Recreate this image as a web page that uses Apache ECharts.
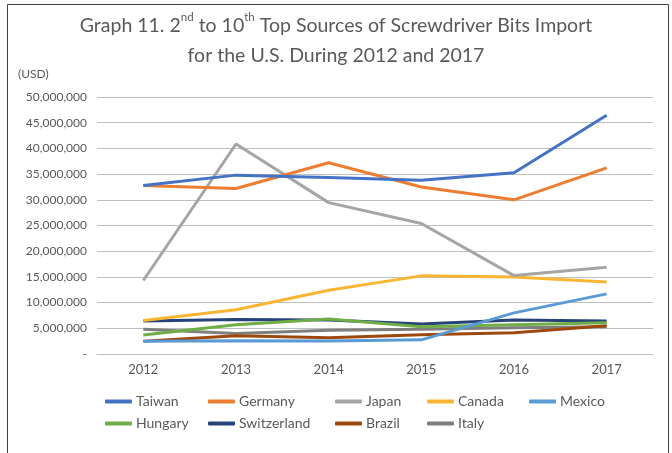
<!DOCTYPE html>
<html><head><meta charset="utf-8">
<script src="https://cdn.jsdelivr.net/npm/echarts@6/dist/echarts.min.js"></script>
<style>html,body{margin:0;padding:0;background:#fff}#c{width:672px;height:453px}</style>
</head><body><div id="c"></div>
<script>
const years = ['2012','2013','2014','2015','2016','2017'];
const seriesNames = ['Taiwan','Germany','Japan','Canada','Mexico','Hungary','Switzerland','Brazil','Italy'];
const taiwan      = [32800000, 34800000, 34350000, 33800000, 35250000, 46450000];
const germany     = [32800000, 32200000, 37200000, 32500000, 30000000, 36200000];
const japan       = [14300000, 40850000, 29450000, 25400000, 15250000, 16900000];
const canada      = [6500000, 8600000, 12400000, 15200000, 15000000, 14000000];
const mexico      = [2500000, 2600000, 2550000, 2750000, 8000000, 11700000];
const hungary     = [3700000, 5700000, 6800000, 5300000, 5700000, 6100000];
const switzerland = [6400000, 6700000, 6600000, 5850000, 6600000, 6400000];
const brazil      = [2500000, 3550000, 3150000, 3750000, 4150000, 5500000];
const italy       = [4800000, 4000000, 4600000, 4800000, 5100000, 5300000];
const yTicks = {min: 0, max: 50000000, interval: 5000000};

const values = [taiwan, germany, japan, canada, mexico, hungary, switzerland, brazil, italy];
const colors = ['#4472C4','#ED7D31','#A5A5A5','#FAB632','#5B9BD5','#70AD47','#264478','#9E480E','#7F7F7F'];
const txt = '#595959';
const FONT = 'Lato';

function fmt(v){
  if (v === 0) return '-';
  return String(v).replace(/\B(?=(\d{3})+(?!\d))/g, ',');
}

const legendCols = [[0,5],[1,6],[2,7],[3,8],[4]];
const legendX = [100, 203, 330, 422, 524];
const legends = legendCols.map((col, i) => ({
  orient: 'vertical',
  left: legendX[i],
  top: 388,
  itemWidth: 27,
  itemHeight: 4,
  itemGap: 5,
  icon: 'roundRect',
  data: col.map(k => seriesNames[k]),
  textStyle: {color: txt, fontFamily: FONT, fontSize: 14, lineHeight: 17, padding: [0,0,0,-1]}
}));

const chart = echarts.init(document.getElementById('c'), null, {renderer: 'canvas'});
chart.setOption({
  animation: false,
  backgroundColor: '#fff',
  color: colors,
  title: {
    left: 'center',
    top: 6,
    itemGap: 0,
    textStyle: {
      color: txt, fontFamily: FONT, fontSize: 19.5, fontWeight: 'normal', lineHeight: 30,
      rich: {
        n: {color: txt, fontFamily: FONT, fontSize: 19.5, lineHeight: 30},
        s: {color: txt, fontFamily: FONT, fontSize: 11.5, verticalAlign: 'top', lineHeight: 30, padding: [0,0,8,0]}
      }
    },
    text: '{n|Graph 11. 2}{s|nd}{n| to 10}{s|th}{n| Top Sources of Screwdriver Bits Import}\n{n|for the U.S. During 2012 and 2017}'
  },
  legend: legends,
  grid: {left: 97, right: 19, top: 97, bottom: 99, containLabel: false},
  xAxis: {
    type: 'category',
    data: years,
    boundaryGap: true,
    axisTick: {show: false},
    axisLine: {show: true, lineStyle: {color: '#BFBFBF', width: 1}},
    axisLabel: {color: txt, fontFamily: FONT, fontSize: 13, margin: 9}
  },
  yAxis: {
    type: 'value',
    min: yTicks.min, max: yTicks.max, interval: yTicks.interval,
    axisLine: {show: false},
    axisTick: {show: false},
    splitLine: {lineStyle: {color: '#BFBFBF', width: 1}},
    axisLabel: {color: txt, fontFamily: FONT, fontSize: 12, margin: 10, formatter: fmt}
  },
  graphic: [
    {type: 'rect', shape: {x: 7.5, y: 4.5, width: 661, height: 470}, style: {fill: 'none', stroke: '#404040', lineWidth: 1}, silent: true},
    {type: 'text', left: 18, top: 68, style: {text: '(USD)', fill: txt, font: '12px Lato'}}
  ],
  series: seriesNames.map((n, i) => ({
    name: n,
    type: 'line',
    data: values[i],
    showSymbol: false,
    symbol: 'none',
    lineStyle: {width: 3, color: colors[i]},
    itemStyle: {color: colors[i]},
    z: 10 - i
  }))
});
</script></body></html>
